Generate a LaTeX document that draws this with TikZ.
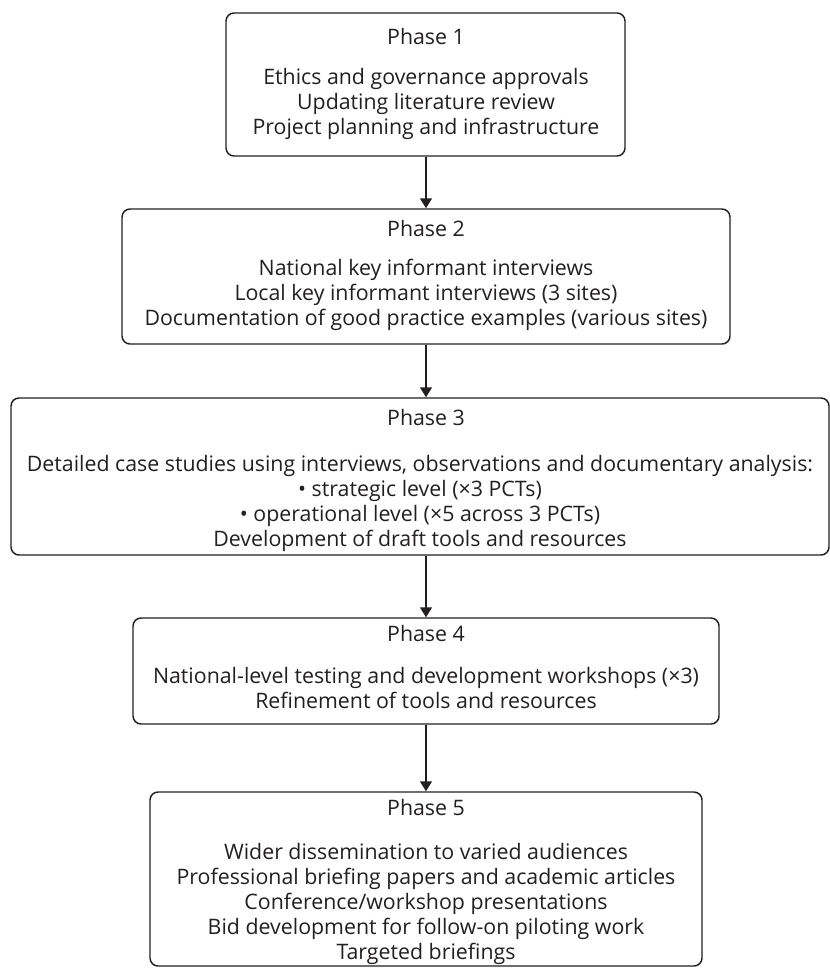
\documentclass[tikz,border=0pt]{standalone}
\usepackage{fontspec}
\setmainfont{Open Sans}
\usetikzlibrary{arrows.meta}
\definecolor{ink}{HTML}{231F20}
\tikzset{
  box/.style={draw=ink, line width=1.1pt, rounded corners=6pt, inner sep=0pt},
  title/.style={anchor=base, inner sep=0pt, text=ink, font=\fontsize{16}{18.75}\selectfont},
  body/.style={anchor=north, inner sep=0pt, align=center, text=ink, font=\fontsize{16}{18.75}\selectfont},
  arr/.style={draw=ink, line width=1.1pt, -{Triangle[width=9pt,length=7.5pt]}}
}
\begin{document}
\begin{tikzpicture}[x=0.75pt,y=-0.75pt]
\useasboundingbox (0,0) rectangle (830,968);
\coordinate (ax) at (426,0);
% boxes
\node[box, minimum width=399*0.75pt, minimum height=143*0.75pt] (b1) at (425.5,84.5) {};
\node[box, minimum width=608*0.75pt, minimum height=135*0.75pt] (b2) at (426,276.5) {};
\node[box, minimum width=818*0.75pt, minimum height=157*0.75pt] (b3) at (420,476.5) {};
\node[box, minimum width=586*0.75pt, minimum height=106*0.75pt] (b4) at (426,671) {};
\node[box, minimum width=552*0.75pt, minimum height=174*0.75pt] (b5) at (426,879) {};
% texts
\node[title] (t1) at (426,44) {Phase 1};
\node[body] (c1) at (426,66.5) {\strut Ethics and governance approvals\\Updating literature review\\Project planning and infrastructure};
\node[title] (t2) at (426,236) {Phase 2};
\node[body] (c2) at (426,257.5) {\strut National key informant interviews\\Local key informant interviews (3 sites)\\Documentation of good practice examples (various sites)};
\node[title] (t3) at (426,425) {Phase 3};
\node[body] (c3) at (420,453.5) {\strut Detailed case studies using interviews, observations and documentary analysis:\\\textbullet\ strategic level (\texttimes 3 PCTs)\\\textbullet\ operational level (\texttimes 5 across 3 PCTs)\\Development of draft tools and resources};
\node[title] (t4) at (426,641) {Phase 4};
\node[body] (c4) at (426,665.5) {\strut National-level testing and development workshops (\texttimes 3)\\Refinement of tools and resources};
\node[title] (t5) at (426,815) {Phase 5};
\node[body] (c5) at (426,841.5) {\strut Wider dissemination to varied audiences\\Professional briefing papers and academic articles\\Conference/workshop presentations\\Bid development for follow-on piloting work\\Targeted briefings};
% arrows
\draw[arr] (b1.south -| ax) -- (b2.north -| ax);
\draw[arr] (b2.south -| ax) -- (b3.north -| ax);
\draw[arr] (b3.south -| ax) -- (b4.north -| ax);
\draw[arr] (b4.south -| ax) -- (b5.north -| ax);
\end{tikzpicture}
\end{document}
